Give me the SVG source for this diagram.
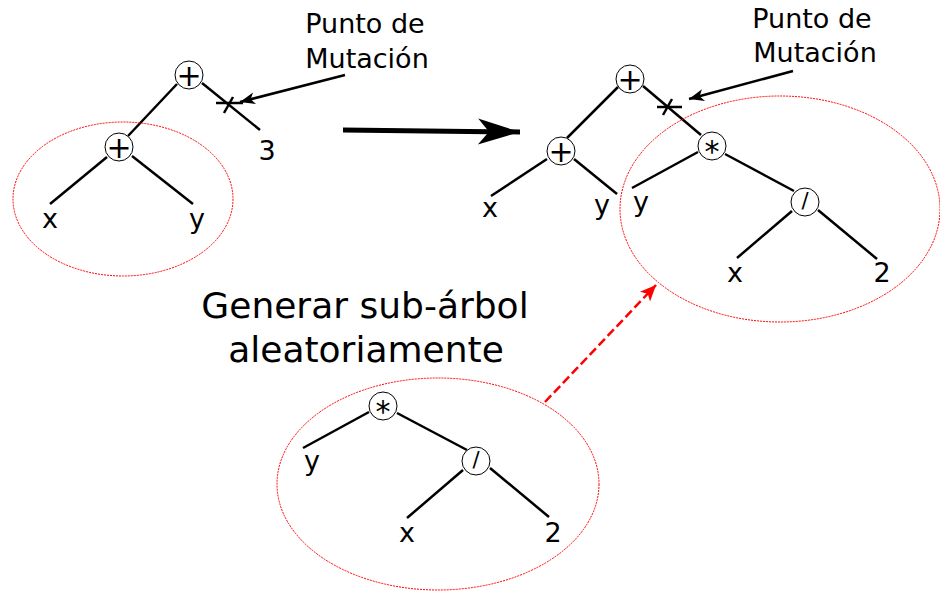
<svg xmlns="http://www.w3.org/2000/svg" width="940" height="592" viewBox="0 0 940 592">
<style>
.e{stroke:#000;stroke-width:2.5;fill:none;stroke-linecap:butt}
.n{fill:#fff;stroke:#000;stroke-width:1}
.t{font-family:"DejaVu Sans",sans-serif;font-size:27px;fill:#000;text-anchor:middle}
.o{font-family:"DejaVu Sans",sans-serif;fill:#000;text-anchor:middle}
.ell{fill:none;stroke:#f00;stroke-width:1;stroke-dasharray:2,1}
.thin{stroke:#000;stroke-width:2.5;fill:none}
</style>
<defs>
<marker id="ah" markerUnits="userSpaceOnUse" viewBox="-16 -8 18 16" refX="0" refY="0" markerWidth="18" markerHeight="16" orient="auto" overflow="visible">
<path d="M0,0 L-15,-6 L-11,0 L-15,6 Z" fill="#000"/>
</marker>
<marker id="big" markerUnits="userSpaceOnUse" viewBox="-44 -15 46 30" refX="0" refY="0" markerWidth="46" markerHeight="30" orient="auto" overflow="visible">
<path d="M0,0 L-42,-13 L-31,0 L-42,13 Z" fill="#000"/>
</marker>
<marker id="red" markerUnits="userSpaceOnUse" viewBox="-18 -9 20 18" refX="0" refY="0" markerWidth="20" markerHeight="18" orient="auto" overflow="visible">
<path d="M0,0 L-16,-7 L-12,0 L-16,7 Z" fill="#f00"/>
</marker>
</defs>

<g id="connectors">
<!-- left tree -->
<line class="e" x1="177" y1="84" x2="128" y2="136"/>
<line class="e" x1="202" y1="83" x2="260" y2="130"/>
<line class="e" x1="107" y1="157" x2="50" y2="204"/>
<line class="e" x1="132" y1="156" x2="193" y2="204"/>
<!-- right tree -->
<line class="e" x1="618" y1="87" x2="567" y2="138"/>
<line class="e" x1="643" y1="86" x2="701" y2="135"/>
<line class="e" x1="547" y1="159" x2="491" y2="196"/>
<line class="e" x1="574" y1="159" x2="617" y2="194"/>
<line class="e" x1="698" y1="152" x2="632" y2="188"/>
<line class="e" x1="725" y1="154" x2="794" y2="191"/>
<line class="e" x1="792" y1="211" x2="737" y2="258"/>
<line class="e" x1="818" y1="210" x2="877" y2="259"/>
<!-- bottom tree -->
<line class="e" x1="369" y1="412" x2="303" y2="448"/>
<line class="e" x1="397" y1="413" x2="467" y2="450"/>
<line class="e" x1="463" y1="470" x2="407" y2="518"/>
<line class="e" x1="490" y1="468" x2="549" y2="517"/>
<!-- cross marks -->
<line class="thin" x1="216" y1="103" x2="243" y2="103"/>
<line class="thin" x1="224" y1="113" x2="233" y2="97"/>
<line class="thin" x1="657" y1="107" x2="682" y2="107"/>
<line class="thin" x1="663" y1="115" x2="672" y2="99"/>
<!-- pointer arrows -->
<line x1="345" y1="75" x2="240" y2="102" stroke="#000" stroke-width="2.5" marker-end="url(#ah)"/>
<line x1="793" y1="71" x2="689" y2="99" stroke="#000" stroke-width="2.5" marker-end="url(#ah)"/>
<!-- main arrow -->
<line x1="343" y1="130" x2="520" y2="132" stroke="#000" stroke-width="5" marker-end="url(#big)"/>
<!-- red dashed arrow -->
<line x1="545" y1="402" x2="656" y2="285" stroke="#f00" stroke-width="2.5" stroke-dasharray="9,4" marker-end="url(#red)"/>
</g>

<g id="ellipses">
<ellipse class="ell" cx="123" cy="199" rx="110" ry="77"/>
<ellipse class="ell" cx="780" cy="209" rx="160" ry="113"/>
<ellipse class="ell" cx="438" cy="484" rx="161" ry="106"/>
</g>

<g id="left-root"><circle class="n" cx="189" cy="75" r="14"/><text class="o" x="189" y="86" font-size="30">+</text></g>
<g id="left-plus"><circle class="n" cx="119" cy="147" r="14"/><text class="o" x="119" y="158" font-size="30">+</text></g>
<g id="left-x"><text class="t" x="50" y="228">x</text></g>
<g id="left-y"><text class="t" x="197" y="228">y</text></g>
<g id="left-3"><text class="t" x="267" y="160">3</text></g>

<g id="right-root"><circle class="n" cx="630" cy="79" r="14"/><text class="o" x="630" y="90" font-size="30">+</text></g>
<g id="right-plus"><circle class="n" cx="561" cy="151" r="14"/><text class="o" x="561" y="162" font-size="30">+</text></g>
<g id="right-star"><circle class="n" cx="712" cy="146" r="14"/><text class="o" x="712" y="162" font-size="30">*</text></g>
<g id="right-div"><circle class="n" cx="805" cy="202" r="14"/><text class="o" x="805" y="208" font-size="21">/</text></g>
<g id="right-x1"><text class="t" x="490" y="217">x</text></g>
<g id="right-y1"><text class="t" x="602" y="214">y</text></g>
<g id="right-y2"><text class="t" x="641" y="211">y</text></g>
<g id="right-x2"><text class="t" x="735" y="282">x</text></g>
<g id="right-2"><text class="t" x="882" y="282">2</text></g>

<g id="bottom-star"><circle class="n" cx="383" cy="406" r="14"/><text class="o" x="383" y="422" font-size="30">*</text></g>
<g id="bottom-div"><circle class="n" cx="476" cy="461" r="14"/><text class="o" x="476" y="467" font-size="21">/</text></g>
<g id="bottom-y"><text class="t" x="312" y="470">y</text></g>
<g id="bottom-x"><text class="t" x="407" y="542">x</text></g>
<g id="bottom-2"><text class="t" x="553" y="542">2</text></g>

<g id="label-left"><text class="t" x="365" y="33">Punto de</text><text class="t" x="367" y="68">Mutación</text></g>
<g id="label-right"><text class="t" x="812" y="28">Punto de</text><text class="t" x="815" y="62">Mutación</text></g>
<g id="label-gen"><text class="o" x="365" y="318" font-size="36">Generar sub-árbol</text><text class="o" x="366" y="362" font-size="36">aleatoriamente</text></g>
</svg>
